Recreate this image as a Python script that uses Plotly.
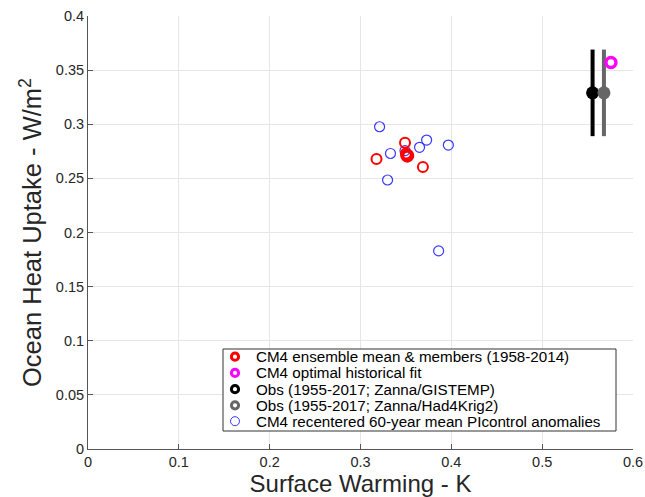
import plotly.graph_objects as go

# Data
ens_mean_x = [0.3515]
ens_mean_y = [0.271]
ens_members_x = [0.349, 0.3176, 0.3687, 0.350]
ens_members_y = [0.283, 0.268, 0.2605, 0.273]
opt_fit_x = [0.5757]
opt_fit_y = [0.357]
obs_gis_x = [0.5555]
obs_gis_y = [0.329]
obs_gis_err = [0.04]
obs_had_x = [0.568]
obs_had_y = [0.329]
obs_had_err = [0.04]
pic_x = [0.321, 0.333, 0.349, 0.365, 0.3728, 0.3967, 0.3298, 0.386, 0.352]
pic_y = [0.2977, 0.273, 0.2756, 0.2787, 0.2854, 0.2808, 0.2485, 0.183, 0.271]

labels = [
    "CM4 ensemble mean & members (1958-2014)",
    "CM4 optimal historical fit",
    "Obs (1955-2017; Zanna/GISTEMP)",
    "Obs (1955-2017; Zanna/Had4Krig2)",
    "CM4 recentered 60-year mean PIcontrol anomalies",
]
x_ticks = [0, 0.1, 0.2, 0.3, 0.4, 0.5, 0.6]
x_ticktext = ["0", "0.1", "0.2", "0.3", "0.4", "0.5", "0.6"]
y_ticks = [0, 0.05, 0.1, 0.15, 0.2, 0.25, 0.3, 0.35, 0.4]
y_ticktext = ["0", "0.05", "0.1", "0.15", "0.2", "0.25", "0.3", "0.35", "0.4"]

RED = "#ff0000"
MAG = "#ff00ff"
BLK = "#000000"
GRY = "#666666"
BLU = "#3838ff"
FONT = "Liberation Sans, Arial, sans-serif"

fig = go.Figure()

fig.add_trace(go.Scatter(x=pic_x, y=pic_y, mode="markers", showlegend=False,
                         marker=dict(symbol="circle-open", size=10, color=BLU, line=dict(width=1.2, color=BLU))))
fig.add_trace(go.Scatter(x=ens_members_x, y=ens_members_y, mode="markers", showlegend=False,
                         marker=dict(symbol="circle-open", size=10, color=RED, line=dict(width=2, color=RED))))
fig.add_trace(go.Scatter(x=ens_mean_x, y=ens_mean_y, mode="markers", showlegend=False,
                         marker=dict(symbol="circle-open", size=10, color=RED, line=dict(width=4, color=RED))))
fig.add_trace(go.Scatter(x=obs_gis_x, y=obs_gis_y, mode="markers", showlegend=False,
                         error_y=dict(type="data", array=obs_gis_err, color=BLK, thickness=4, width=0),
                         marker=dict(symbol="circle", size=13, color=BLK)))
fig.add_trace(go.Scatter(x=obs_had_x, y=obs_had_y, mode="markers", showlegend=False,
                         error_y=dict(type="data", array=obs_had_err, color=GRY, thickness=4, width=0),
                         marker=dict(symbol="circle", size=13, color=GRY)))
fig.add_trace(go.Scatter(x=opt_fit_x, y=opt_fit_y, mode="markers", showlegend=False,
                         marker=dict(symbol="circle-open", size=10, color=MAG, line=dict(width=3.5, color=MAG))))

# Manual legend (box, ring symbols, labels) in paper coordinates
PL, PR, PT, PB = 88, 633, 16, 449
def px2paper_x(px):
    return (px - PL) / (PR - PL)
def px2paper_y(py):
    return (PB - py) / (PB - PT)

leg_colors = [RED, MAG, BLK, GRY, BLU]
leg_widths = [3, 3, 3, 3, 1]
leg_radius = [3.6, 3.6, 3.6, 3.6, 4.5]
row_py = [356.7, 372.9, 389.2, 405.3, 421.2]

shapes = [dict(type="rect", xref="paper", yref="paper",
               x0=px2paper_x(223), x1=px2paper_x(616), y0=px2paper_y(431), y1=px2paper_y(349),
               fillcolor="white", line=dict(color="#333333", width=1), layer="above")]
annotations = []
for lab, c, w, r, py in zip(labels, leg_colors, leg_widths, leg_radius, row_py):
    shapes.append(dict(type="circle", xref="paper", yref="paper",
                       xsizemode="pixel", ysizemode="pixel",
                       xanchor=px2paper_x(235), yanchor=px2paper_y(py),
                       x0=-r, x1=r, y0=-r, y1=r,
                       line=dict(color=c, width=w), layer="above"))
    annotations.append(dict(xref="paper", yref="paper", x=px2paper_x(254), y=px2paper_y(py),
                            xanchor="left", yanchor="middle", text=lab, showarrow=False,
                            font=dict(family=FONT, size=15.2, color="#000000")))

axis_common = dict(
    showgrid=True, gridcolor="#e6e6e6", gridwidth=1,
    zeroline=False, showline=True, linecolor="#555555", linewidth=1,
    ticks="inside", ticklen=5, tickcolor="#555555",
    tickfont=dict(family=FONT, size=14.5, color="#262626"),
    mirror=False, automargin=False,
)

fig.update_layout(
    width=645, height=497,
    margin=dict(l=PL, r=645 - PR, t=PT, b=497 - PB, autoexpand=False),
    paper_bgcolor="white", plot_bgcolor="white",
    font=dict(family=FONT, color="#262626"),
    xaxis=dict(range=[0, 0.6], tickvals=x_ticks, ticktext=x_ticktext,
               title=dict(text="Surface Warming - K", font=dict(size=24, color="#262626"), standoff=0),
               **axis_common),
    yaxis=dict(range=[0, 0.4], tickvals=y_ticks, ticktext=y_ticktext,
               title=dict(text="Ocean Heat Uptake - W/m<sup>2</sup>", font=dict(size=25.5, color="#262626"), standoff=6),
               **axis_common),
    shapes=shapes,
    annotations=annotations,
    showlegend=False,
)

fig.write_html("out.html")
